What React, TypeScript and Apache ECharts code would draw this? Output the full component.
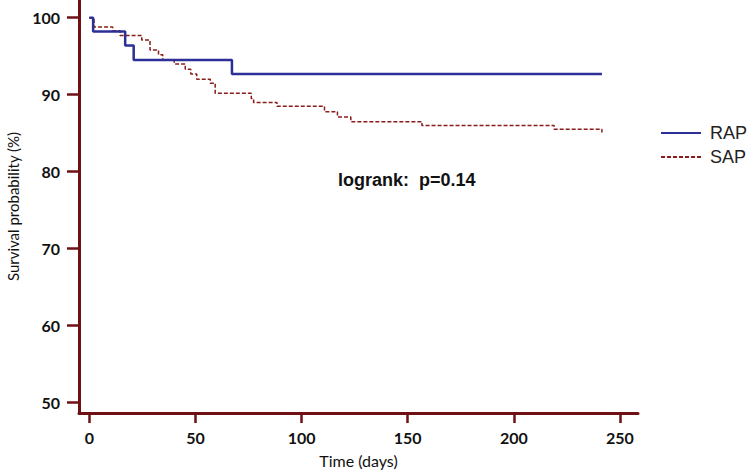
import React, { useEffect, useRef } from "react";
import * as echarts from "echarts";

const seriesNames = ["RAP", "SAP"];
// Kaplan-Meier steps: [time (days), survival %]
const rapSteps: [number, number][] = [
  [0, 100], [1.8, 98.2], [16.9, 96.4], [20.9, 94.5], [67.2, 92.7], [241.5, 92.7],
];
const sapSteps: [number, number][] = [
  [0, 100], [2.2, 98.8], [11, 98.3], [14.5, 97.7], [24.7, 97.1], [28.6, 95.8],
  [32.6, 95.2], [34.6, 94.5], [40, 94.0], [45.2, 93.3], [47.8, 92.7], [50.6, 92.0],
  [57, 91.5], [59.3, 90.2], [76.3, 89.5], [77.4, 89.0], [88.4, 88.5], [110.8, 87.8],
  [116.9, 87.1], [123.2, 86.5], [156.7, 86.0], [219, 85.5], [241.5, 85.1],
];
const xTicks = [0, 50, 100, 150, 200, 250];
const yTicks = [50, 60, 70, 80, 90, 100];
const annotation = "logrank:  p=0.14";

const AXIS_COLOR = "#6e1014";

export default function App() {
  const ref = useRef<HTMLDivElement>(null);
  useEffect(() => {
    document.body.style.margin = "0";
    const chart = echarts.init(ref.current!, null, { renderer: "svg" });
    chart.setOption({
      animation: false,
      backgroundColor: "#ffffff",
      grid: { left: 79, right: 112, top: 0, bottom: 57, containLabel: false, outerBoundsMode: "none" },
      legend: {
        orient: "vertical",
        left: 655,
        top: 119,
        itemWidth: 40,
        itemHeight: 14,
        itemGap: 6,
        data: seriesNames,
        itemStyle: { opacity: 0 },
        textStyle: {
          fontFamily: "Liberation Sans",
          fontSize: 18,
          color: "#222",
          padding: [0, 0, 0, 4],
        },
      },
      xAxis: {
        type: "value",
        min: -4.86,
        max: 258.5,
        name: "Time (days)",
        nameLocation: "middle",
        nameGap: 39,
        nameTextStyle: { fontFamily: "Lato", fontSize: 16, color: "#111" },
        axisLine: { show: true, onZero: false, lineStyle: { color: AXIS_COLOR, width: 3 } },
        axisTick: { show: true, length: 10, customValues: xTicks, lineStyle: { color: AXIS_COLOR, width: 2.5 } },
        axisLabel: {
          customValues: xTicks,
          margin: 16,
          fontFamily: "Lato",
          fontWeight: "bold",
          fontSize: 16,
          color: "#111",
        },
        splitLine: { show: false },
      },
      yAxis: {
        type: "value",
        min: 48.66,
        max: 102.3,
        name: "Survival probability (%)",
        nameLocation: "middle",
        nameGap: 59,
        nameTextStyle: { fontFamily: "Lato", fontSize: 15, color: "#111" },
        axisLine: { show: true, onZero: false, lineStyle: { color: AXIS_COLOR, width: 3 } },
        axisTick: { show: true, length: 12, customValues: yTicks, lineStyle: { color: AXIS_COLOR, width: 2.5 } },
        axisLabel: {
          customValues: yTicks,
          margin: 19,
          fontFamily: "Lato",
          fontWeight: "bold",
          fontSize: 16,
          color: "#111",
        },
        splitLine: { show: false },
      },
      graphic: [
        {
          type: "text",
          left: 338,
          top: 171,
          style: {
            text: annotation,
            fontFamily: "Liberation Sans",
            fontWeight: "bold",
            fontSize: 18,
            fill: "#111",
          },
        },
      ],
      series: [
        {
          name: seriesNames[0],
          type: "line",
          step: "end",
          symbol: "none",
          data: rapSteps,
          lineStyle: { color: "#2b2f96", width: 2.5 },
          itemStyle: { color: "#2b2f96" },
          z: 3,
        },
        {
          name: seriesNames[1],
          type: "line",
          step: "end",
          symbol: "none",
          data: sapSteps,
          lineStyle: { color: "#8a1c1c", width: 1.5, type: [4, 2] },
          itemStyle: { color: "#8a1c1c" },
          z: 2,
        },
      ],
    });
    return () => chart.dispose();
  }, []);
  return <div ref={ref} style={{ width: 750, height: 470 }} />;
}
